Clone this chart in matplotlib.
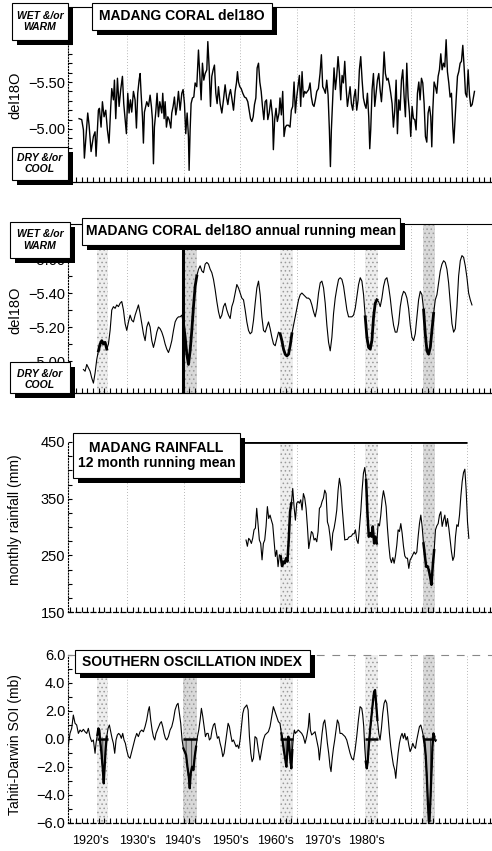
import matplotlib
matplotlib.use("Agg")
import matplotlib.pyplot as plt
import numpy as np
from matplotlib.patches import Rectangle
from matplotlib.ticker import FixedLocator

plt.rcParams['font.family'] = ['Liberation Sans', 'DejaVu Sans']
plt.rcParams['hatch.linewidth'] = 0.6

W, H = 492, 851

# ---- panel 1: Madang coral del18O (monthly) ----
coral_year = [1921.54, 1922.01, 1922.31, 1922.48, 1922.72, 1923.07, 1923.31, 1923.66, 1924.07, 1924.36,
              1924.54, 1924.78, 1924.95, 1925.13, 1925.42, 1925.66, 1925.95, 1926.25, 1926.54, 1926.83,
              1927.13, 1927.31, 1927.60, 1927.78, 1928.01, 1928.31, 1928.60, 1928.89, 1929.19, 1929.42,
              1929.66, 1929.89, 1930.13, 1930.36, 1930.60, 1930.83, 1931.13, 1931.42, 1931.66, 1931.89,
              1932.13, 1932.31, 1932.48, 1932.72, 1932.89, 1933.07, 1933.30, 1933.48, 1933.78, 1934.07,
              1934.30, 1934.48, 1934.66, 1934.83, 1935.07, 1935.30, 1935.54, 1935.78, 1936.13, 1936.30,
              1936.54, 1936.72, 1936.95, 1937.19, 1937.42, 1937.72, 1937.89, 1938.13, 1938.36, 1938.60,
              1938.83, 1939.07, 1939.36, 1939.66, 1939.89, 1940.13, 1940.36, 1940.60, 1940.83, 1940.95,
              1941.13, 1941.30, 1941.54, 1941.78, 1942.01, 1942.30, 1942.60, 1942.83, 1943.07, 1943.30,
              1943.54, 1943.78, 1944.07, 1944.25, 1944.48, 1944.72, 1944.95, 1945.19, 1945.42, 1945.66,
              1945.89, 1946.13, 1946.42, 1946.72, 1947.01, 1947.30, 1947.54, 1947.78, 1948.01, 1948.25,
              1948.48, 1948.78, 1949.07, 1949.30, 1949.48, 1949.66, 1949.89, 1950.13, 1950.42, 1950.72,
              1951.01, 1951.30, 1951.54, 1951.78, 1952.01, 1952.25, 1952.48, 1952.72, 1952.95, 1953.19,
              1953.42, 1953.66, 1953.89, 1954.13, 1954.36, 1954.60, 1954.83, 1955.07, 1955.36, 1955.66,
              1955.81, 1956.04, 1956.28, 1956.51, 1956.81, 1956.98, 1957.22, 1957.46, 1957.69, 1957.93,
              1958.16, 1958.46, 1958.75, 1958.98, 1959.22, 1959.46, 1959.69, 1959.93, 1960.16, 1960.40,
              1960.63, 1960.87, 1961.10, 1961.34, 1961.57, 1961.81, 1962.04, 1962.28, 1962.51, 1962.75,
              1962.98, 1963.22, 1963.46, 1963.75, 1964.04, 1964.28, 1964.51, 1964.75, 1964.98, 1965.22,
              1965.46, 1965.69, 1965.87, 1966.04, 1966.28, 1966.51, 1966.75, 1966.98, 1967.22, 1967.46,
              1967.69, 1967.93, 1968.16, 1968.40, 1968.63, 1968.87, 1969.10, 1969.34, 1969.57, 1969.81,
              1970.04, 1970.28, 1970.51, 1970.75, 1970.98, 1971.22, 1971.46, 1971.69, 1971.93, 1972.16,
              1972.40, 1972.63, 1972.81, 1972.98, 1973.22, 1973.46, 1973.69, 1973.93, 1974.16, 1974.40,
              1974.63, 1974.87, 1975.10, 1975.34, 1975.57, 1975.81, 1976.04, 1976.28, 1976.51, 1976.75,
              1976.98, 1977.22, 1977.46, 1977.69, 1977.93, 1978.16, 1978.40, 1978.63, 1978.87, 1979.10,
              1979.34, 1979.57, 1979.81, 1980.04, 1980.28, 1980.51, 1980.75, 1980.98, 1981.22, 1981.46,
              1981.69, 1981.93, 1982.16, 1982.40, 1982.63, 1982.87, 1983.10, 1983.34, 1983.57, 1983.75,
              1983.93, 1984.16, 1984.40, 1984.63, 1984.87, 1985.10, 1985.34, 1985.57, 1985.81, 1986.04,
              1986.28, 1986.51, 1986.75, 1986.98, 1987.22, 1987.46, 1987.63, 1987.81, 1988.04, 1988.28,
              1988.51, 1988.75, 1988.98, 1989.22, 1989.46, 1989.69, 1989.93, 1990.16, 1990.40, 1990.63,
              1990.87, 1991.10, 1991.28]
coral_d18o = [-5.11, -5.10, -4.99, -4.69, -4.88, -5.17, -5.04, -4.76, -4.92, -4.97,
              -4.71, -4.99, -5.20, -5.22, -5.02, -5.29, -5.13, -5.20, -4.99, -4.85,
              -5.24, -5.43, -5.31, -5.52, -5.11, -5.54, -5.24, -5.42, -5.56, -5.27,
              -5.10, -4.95, -5.38, -5.17, -5.31, -5.18, -5.40, -5.31, -5.01, -5.38,
              -5.52, -5.59, -5.38, -5.13, -4.85, -5.18, -5.24, -5.29, -5.24, -5.36,
              -5.24, -5.10, -4.63, -5.02, -5.18, -5.38, -5.13, -5.29, -5.17, -5.38,
              -5.11, -5.29, -5.02, -5.13, -5.10, -5.01, -5.17, -5.24, -5.34, -5.15,
              -5.24, -5.40, -5.20, -5.38, -5.42, -5.27, -4.95, -5.17, -4.92, -4.56,
              -4.99, -5.27, -5.33, -5.34, -5.49, -5.45, -5.84, -5.59, -5.31, -5.70,
              -5.52, -5.59, -5.63, -5.93, -5.66, -5.24, -5.56, -5.63, -5.68, -5.38,
              -5.27, -5.45, -5.27, -5.17, -5.31, -5.47, -5.34, -5.26, -5.36, -5.42,
              -5.33, -5.20, -5.40, -5.49, -5.61, -5.50, -5.45, -5.43, -5.38, -5.34,
              -5.33, -5.29, -5.20, -5.11, -5.08, -5.13, -5.26, -5.33, -5.65, -5.70,
              -5.50, -5.40, -5.24, -5.10, -5.29, -5.31, -5.10, -5.17, -5.31, -5.13,
              -4.78, -5.10, -5.22, -5.08, -5.17, -5.33, -5.15, -5.40, -4.92, -5.02,
              -5.04, -5.04, -5.02, -5.20, -5.24, -5.50, -5.17, -5.34, -5.45, -5.57,
              -5.24, -5.61, -5.34, -5.40, -5.38, -5.40, -5.42, -5.49, -5.34, -5.26,
              -5.24, -5.31, -5.40, -5.43, -5.59, -5.79, -5.45, -5.42, -5.38, -5.52,
              -5.36, -4.99, -4.60, -4.99, -5.34, -5.65, -5.42, -5.56, -5.77, -5.59,
              -5.31, -5.57, -5.49, -5.72, -5.45, -5.24, -5.34, -5.45, -5.27, -5.20,
              -5.34, -5.42, -5.20, -5.31, -5.63, -5.77, -5.52, -5.33, -5.26, -5.22,
              -5.38, -5.13, -4.79, -4.99, -5.42, -5.59, -5.24, -5.38, -5.52, -5.59,
              -5.42, -5.29, -5.49, -5.82, -5.59, -5.52, -5.54, -5.47, -5.38, -5.27,
              -5.02, -5.20, -5.52, -4.95, -5.31, -5.20, -5.52, -5.63, -5.34, -5.13,
              -5.70, -5.34, -5.17, -4.92, -5.24, -5.11, -5.10, -4.99, -5.38, -5.50,
              -5.31, -5.54, -5.49, -5.27, -4.92, -4.86, -5.17, -5.24, -5.13, -4.81,
              -5.20, -5.50, -5.45, -5.38, -5.56, -5.63, -5.80, -5.63, -5.70, -5.66,
              -5.95, -5.61, -5.49, -5.34, -5.38, -5.02, -4.85, -5.06, -5.31, -5.56,
              -5.61, -5.70, -5.72, -5.89, -5.65, -5.38, -5.34, -5.63, -5.36, -5.24,
              -5.26, -5.34, -5.40]

# ---- panel 2: annual running mean of coral del18O ----
mean_start = 1922.31
mean_step = 0.2941
coral_mean = [-4.95, -4.94, -4.98, -4.96, -4.94, -4.90, -4.87, -4.93, -5.01, -5.06,
              -5.10, -5.12, -5.10, -5.11, -5.07, -5.10, -5.18, -5.30, -5.32, -5.31,
              -5.33, -5.32, -5.34, -5.35, -5.30, -5.22, -5.18, -5.23, -5.27, -5.24,
              -5.23, -5.27, -5.30, -5.33, -5.28, -5.22, -5.16, -5.12, -5.20, -5.23,
              -5.20, -5.12, -5.08, -5.12, -5.17, -5.20, -5.19, -5.17, -5.14, -5.10,
              -5.07, -5.05, -5.08, -5.12, -5.18, -5.23, -5.25, -5.26, -5.26, -5.27,
              -5.22, -5.14, -5.04, -4.98, -5.06, -5.18, -5.32, -5.44, -5.50, -5.54,
              -5.56, -5.53, -5.52, -5.57, -5.58, -5.57, -5.54, -5.52, -5.48, -5.42,
              -5.35, -5.29, -5.25, -5.27, -5.32, -5.34, -5.30, -5.27, -5.25, -5.32,
              -5.35, -5.40, -5.45, -5.43, -5.40, -5.37, -5.36, -5.30, -5.23, -5.18,
              -5.16, -5.17, -5.24, -5.34, -5.43, -5.47, -5.39, -5.26, -5.18, -5.17,
              -5.20, -5.23, -5.19, -5.14, -5.10,
              -5.09, -5.13, -5.17, -5.16, -5.12, -5.07, -5.04, -5.03, -5.04, -5.09,
              -5.16, -5.21, -5.26, -5.31, -5.36, -5.39, -5.40, -5.39, -5.38, -5.37,
              -5.37, -5.36, -5.33, -5.29, -5.26, -5.31, -5.40, -5.46, -5.47, -5.43,
              -5.34, -5.21, -5.11, -5.06, -5.14, -5.28, -5.37, -5.43, -5.48, -5.49,
              -5.48, -5.44, -5.37, -5.30, -5.26, -5.26, -5.26, -5.27, -5.31, -5.38,
              -5.45, -5.49, -5.47, -5.39, -5.26, -5.14, -5.08, -5.07, -5.12, -5.26,
              -5.34, -5.36, -5.35, -5.32, -5.37, -5.44, -5.48, -5.49, -5.44, -5.37,
              -5.28, -5.21, -5.17, -5.17, -5.22, -5.32, -5.38, -5.41, -5.40, -5.37,
              -5.31, -5.21, -5.14, -5.12, -5.16, -5.26, -5.36, -5.41, -5.39, -5.30,
              -5.16, -5.06, -5.04, -5.08, -5.18, -5.28, -5.36, -5.39, -5.46, -5.53,
              -5.57, -5.59, -5.58, -5.54, -5.46, -5.34, -5.22, -5.17, -5.19, -5.32,
              -5.50, -5.59, -5.62, -5.61, -5.56, -5.49, -5.40, -5.36, -5.33]

# ---- panel 3: Madang rainfall, 12 month running mean (mm) ----
rain_start = 1950.99
rain_step = 0.2353
rainfall = [277, 266, 280, 277, 271, 280, 295, 298, 333, 304,
            277, 271, 242, 271, 277, 301, 336, 315, 321, 312,
            304, 277, 248, 259, 230, 251, 248, 231, 239, 236,
            245, 239, 277, 327, 342, 368, 336, 312, 342, 345,
            342, 348, 330, 359, 351, 333, 301, 262, 277, 292,
            289, 277, 280, 274, 292, 333, 336, 345, 351, 365,
            359, 309, 301, 283, 259, 289, 298, 312, 330, 365,
            386, 371, 336, 306, 277, 278, 278, 282, 283, 284,
            288, 288, 295, 277, 271, 298, 327, 365, 395, 405,
            383, 324, 283, 289, 283, 301, 271, 283, 271, 306,
            302, 321, 348, 364, 352, 336, 298, 268, 245, 237,
            246, 236, 249, 268, 295, 292, 306, 289, 266, 249,
            245, 245, 227, 242, 246, 251, 256, 252, 256, 283,
            306, 321, 301, 271, 251, 230, 231, 224, 212, 198,
            233, 259, 295, 302, 306, 321, 327, 301, 312, 321,
            301, 315, 298, 277, 256, 241, 248, 283, 304, 301,
            321, 354, 380, 396, 402, 365, 309, 280]

# ---- panel 4: Southern Oscillation Index (Tahiti - Darwin, mb) ----
soi_year = [1919.65, 1919.94, 1920.24, 1920.53, 1920.83, 1921.12, 1921.42, 1921.71, 1922.00, 1922.30,
            1922.59, 1922.89, 1923.18, 1923.47, 1923.77, 1924.06, 1924.36, 1924.53, 1924.77, 1924.94,
            1925.12, 1925.24, 1925.47, 1925.71, 1925.89, 1926.06, 1926.24, 1926.42, 1926.65, 1926.89,
            1927.12, 1927.36, 1927.59, 1927.83, 1928.06, 1928.30, 1928.53, 1928.77, 1929.00, 1929.24,
            1929.47, 1929.71, 1929.94, 1930.24, 1930.53, 1930.83, 1931.12, 1931.42, 1931.71, 1932.00,
            1932.30, 1932.59, 1932.89, 1933.18, 1933.47, 1933.77, 1933.94, 1934.18, 1934.42, 1934.65,
            1934.89, 1935.12, 1935.36, 1935.59, 1935.83, 1936.06, 1936.30, 1936.53, 1936.77, 1937.00,
            1937.30, 1937.59, 1937.89, 1938.18, 1938.47, 1938.77, 1939.00, 1939.24, 1939.47, 1939.71,
            1939.94, 1940.18, 1940.42, 1940.65, 1940.89, 1941.06, 1941.24, 1941.47, 1941.71, 1941.94,
            1942.18, 1942.42, 1942.65, 1942.89, 1943.12, 1943.36, 1943.59, 1943.83, 1944.06, 1944.30,
            1944.53, 1944.77, 1945.00, 1945.24, 1945.47, 1945.71, 1945.94, 1946.18, 1946.42, 1946.65,
            1946.89, 1947.12, 1947.36, 1947.59, 1947.83, 1948.06, 1948.30, 1948.53, 1948.77, 1949.00,
            1949.24, 1949.47, 1949.71, 1949.94, 1950.18, 1950.42, 1950.65, 1950.89, 1951.12, 1951.36,
            1951.59, 1951.83, 1952.06, 1952.30,
            1952.57, 1952.87, 1953.16, 1953.45, 1953.75, 1954.04, 1954.34, 1954.63, 1954.93, 1955.22,
            1955.51, 1955.81, 1956.10, 1956.40, 1956.69, 1956.98, 1957.22, 1957.45, 1957.69, 1957.93,
            1958.10, 1958.28, 1958.45, 1958.63, 1958.81, 1958.98, 1959.16, 1959.34, 1959.51, 1959.69,
            1959.93, 1960.22, 1960.51, 1960.81, 1961.10, 1961.40, 1961.69, 1961.98, 1962.16, 1962.34,
            1962.57, 1962.87, 1963.16, 1963.45, 1963.75, 1963.93, 1964.16, 1964.40, 1964.63, 1964.87,
            1965.10, 1965.34, 1965.57, 1965.81, 1965.98, 1966.16, 1966.40, 1966.63, 1966.87, 1967.10,
            1967.34, 1967.57, 1967.87, 1968.16, 1968.45, 1968.75, 1969.04, 1969.34, 1969.63, 1969.93,
            1970.22, 1970.51, 1970.81, 1971.10, 1971.40, 1971.57, 1971.75, 1971.92, 1972.10, 1972.28,
            1972.45, 1972.63, 1972.87, 1973.10, 1973.34, 1973.57, 1973.75, 1973.93, 1974.16, 1974.40,
            1974.63, 1974.87, 1975.10, 1975.34, 1975.57, 1975.81, 1976.04, 1976.28, 1976.51, 1976.75,
            1976.98, 1977.22, 1977.40, 1977.57, 1977.81, 1978.04, 1978.28, 1978.51, 1978.75, 1978.98,
            1979.22, 1979.45, 1979.69, 1979.93, 1980.16, 1980.40, 1980.63, 1980.87, 1981.10, 1981.34,
            1981.57, 1981.81, 1982.04, 1982.28, 1982.51, 1982.69, 1982.87, 1983.04, 1983.22, 1983.34,
            1983.51, 1983.69, 1983.87, 1984.04, 1984.22, 1984.40, 1984.57]
soi = [-0.43, 0.40, 0.76, 1.71, 1.12, 1.00, 0.40, 0.64, 0.52, 0.69,
       0.52, 0.40, 0.76, 0.17, -0.19, -0.07, -1.02, -0.31, 0.29, 0.76,
       0.64, -0.07, -0.90, -2.10, -3.17, -1.98, -0.67, 0.17, 0.76, 1.00,
       0.52, 0.05, -0.31, -1.02, -0.07, 0.29, 0.40, 0.29, 0.05, 0.40,
       -0.07, -0.31, -0.79, -1.26, -1.38, -0.90, -0.43, 0.05, 0.40, 0.17,
       0.52, 0.64, 0.52, 0.88, 1.36, 2.07, 2.31, 1.36, 0.64, 0.17,
       -0.07, 0.40, 0.64, 0.88, 1.12, 1.24, 0.88, 0.40, 0.05, -0.07,
       0.17, 0.64, 0.88, 1.36, 2.07, 2.43, 2.55, 1.83, 1.12, -0.07,
       -0.67, -0.90, -1.14, -1.98, -2.69, -3.52, -2.45, -1.98, -2.21, -1.26,
       -0.55, 0.17, 0.64, 1.36, 2.19, 1.60, 0.88, 0.17, 0.40, 0.40,
       -0.07, 0.05, 0.64, 1.00, 1.12, 0.52, 0.05, 0.17, -0.31, -0.67,
       -1.26, -1.02, -0.31, 0.40, 1.12, 0.88, 0.29, -0.19, -0.07, -0.31,
       -0.55, -0.43, -0.67, -0.07, 0.88, 1.83, 2.19, 2.31, 2.43, 2.07,
       0.17, -1.02, -1.62, -1.38,
       0.17, 0.05, -0.79, -1.50, -0.79, -0.07, 0.29, 0.40, 0.52, 0.88,
       1.60, 2.31, 1.95, 1.60, 1.24, 1.12, 0.40, -0.19, -0.90, -1.50,
       -1.98, -0.90, 0.17, -0.55, -1.50, -2.10, -0.79, 0.17, 0.64, 0.40,
       0.52, 0.64, 0.52, 0.40, 0.17, -0.31, 0.17, 0.88, 1.83, 0.64,
       0.29, 0.40, 0.52, -0.07, -0.67, -1.50, -0.55, 0.40, 1.12, 1.36,
       0.64, -0.31, -1.02, -1.98, -2.33, -1.50, -0.67, -0.07, 0.64, 1.36,
       1.12, 0.40, 0.40, 0.29, 0.17, -0.07, -0.55, -1.02, -1.38, -1.50,
       -0.79, 0.17, 1.36, 2.31, 2.19, 1.71, 0.88, -0.55, -1.62, -2.10,
       -1.62, -0.55, 0.64, 1.60, 2.55, 3.38, 3.50, 2.55, 1.36, 0.40,
       -0.07, 0.76, 1.83, 2.55, 2.79, 2.55, 1.60, 0.40, -0.55, -1.26,
       -1.86, -2.21, -2.81, -1.98, -1.02, -0.31, 0.17, 0.40, 0.05, 0.40,
       -0.07, 0.17, -0.43, -0.90, -0.67, -0.31, -0.55, -0.67, -0.07, 0.40,
       0.88, 1.00, 0.64, 0.17, -0.43, -1.26, -2.69, -4.36, -5.79, -5.90,
       -4.36, -2.45, -0.55, 0.40, 0.17, -0.19, -0.07]

# El Nino periods shaded in the original figure
enso_bands = [(1924.7, 1926.6), (1939.9, 1942.4), (1957.0, 1959.2), (1972.0, 1974.2), (1982.2, 1984.3)]
decades = [1930, 1940, 1950, 1960, 1970, 1980, 1990]
decade_labels = ["1920's", "1930's", "1940's", "1950's", "1960's", "1970's", "1980's"]
decade_label_pos = [1923.5, 1931.8, 1939.7, 1948.2, 1956.1, 1964.4, 1972.3]

XMIN, XMAX = 1919.59, 1994.37
MINUS = '\u2212'


def rect(l, t, r, b):
    return [l / W, 1 - b / H, (r - l) / W, (b - t) / H]


def box(l, t, r, b, text, size, style='normal', weight='bold', sh=5, dy=0):
    fig.add_artist(Rectangle(((l + sh) / W, 1 - (b + sh) / H), (r - l) / W, (b - t) / H,
                             transform=fig.transFigure, fc='black', ec='none', zorder=5))
    fig.add_artist(Rectangle((l / W, 1 - b / H), (r - l) / W, (b - t) / H,
                             transform=fig.transFigure, fc='white', ec='black', lw=0.8, zorder=6))
    fig.text((l + r) / 2 / W, 1 - ((t + b) / 2 + dy) / H, text, ha='center', va='center',
             fontsize=size, style=style, weight=weight, zorder=7, linespacing=1.15)


def band_mask(t, bands):
    m = np.zeros(len(t), dtype=bool)
    for a, b in bands:
        m |= (t >= a) & (t <= b)
    return m


def setup(ax, ls_bottom='-'):
    ax.set_xlim(XMIN, XMAX)
    ax.spines['right'].set_visible(False)
    ax.spines['left'].set_linestyle(':')
    ax.spines['left'].set_linewidth(0.8)
    ax.spines['bottom'].set_linestyle(ls_bottom)
    ax.spines['bottom'].set_linewidth(0.9)
    ax.xaxis.set_minor_locator(FixedLocator(np.arange(1920, 1995)))
    ax.tick_params(axis='x', which='minor', direction='in', length=3.5, width=0.8)
    ax.tick_params(axis='x', which='major', length=0)
    ax.tick_params(axis='y', which='both', direction='in', length=3, width=0.8, pad=2, labelsize=10.5)
    for d in decades:
        ax.axvline(d, color='#a0a0a0', lw=0.6, ls=(0, (1, 2.5)), zorder=1)


def shade(ax, bands, dark=()):
    for i, (a, b) in enumerate(bands):
        fc = '#d9d9d9' if i in dark else '#eeeeee'
        ax.axvspan(a, b, facecolor=fc, edgecolor='#9a9a9a', hatch='....', lw=0, zorder=0)


fig = plt.figure(figsize=(W / 100, H / 100), dpi=100)

# panel 1
t1 = np.array(coral_year)
y1 = np.array(coral_d18o)
ax1 = fig.add_axes(rect(68, 7, 492, 182))
setup(ax1)
ax1.plot(t1, y1, color='black', lw=1.0, zorder=3)
ax1.set_ylim(-4.436, -6.298)
ax1.set_yticks([-5.5, -5.0], [MINUS + '5.50', MINUS + '5.00'])
ax1.yaxis.set_minor_locator(FixedLocator(np.arange(-5.9, -4.55, 0.1)))
ax1.set_xticks([])

# panel 2
t2 = mean_start + mean_step * np.arange(len(coral_mean))
y2 = np.array(coral_mean)
ax2 = fig.add_axes(rect(68, 224, 492, 393))
setup(ax2)
shade(ax2, enso_bands, dark=(1, 4))
ax2.axvline(enso_bands[1][0], color='black', lw=2.2, zorder=2)
ax2.plot(t2, y2, color='black', lw=0.8, zorder=3)
ax2.plot(t2, np.where(band_mask(t2, enso_bands), y2, np.nan), color='black', lw=2.0, zorder=3)
ax2.set_ylim(-4.812, -5.806)
ax2.set_yticks([-5.6, -5.4, -5.2, -5.0], [MINUS + '5.60', MINUS + '5.40', MINUS + '5.20', MINUS + '5.00'])
ax2.yaxis.set_minor_locator(FixedLocator(np.arange(-5.7, -4.85, 0.1)))
ax2.set_xticks([])

# panel 3
t3 = rain_start + rain_step * np.arange(len(rainfall))
y3 = np.array(rainfall, dtype=float)
ax3 = fig.add_axes(rect(68, 442, 492, 612))
setup(ax3, ls_bottom=(0, (4, 2)))
ax3.spines['top'].set_visible(False)
shade(ax3, enso_bands[2:], dark=(2,))
ax3.hlines(450, 1950, 1990, color='black', lw=2.0, zorder=4)
ax3.plot(t3, y3, color='black', lw=0.8, zorder=3)
ax3.plot(t3, np.where(band_mask(t3, enso_bands), y3, np.nan), color='black', lw=1.8, zorder=3)
ax3.set_ylim(150, 450)
ax3.set_yticks([150, 250, 350, 450])
ax3.yaxis.set_minor_locator(FixedLocator(np.arange(150, 451, 25)))
ax3.set_xticks([])

# panel 4
t4 = np.array(soi_year)
y4 = np.array(soi)
ax4 = fig.add_axes(rect(68, 655, 492, 823))
setup(ax4, ls_bottom=(0, (4, 2)))
ax4.spines['top'].set_linestyle((0, (6, 8)))
ax4.spines['top'].set_color('#888888')
shade(ax4, enso_bands, dark=(1, 4))
m4 = band_mask(t4, enso_bands)
ax4.fill_between(t4, y4, 0, where=m4 & (y4 < 0), interpolate=True,
                 facecolor='#bbbbbb', edgecolor='#333333', hatch='|||', lw=0, zorder=2)
for a, b in enso_bands:
    ax4.hlines(0, a, b, color='black', lw=1.8, zorder=3)
ax4.plot(t4, y4, color='black', lw=0.8, zorder=3)
ax4.plot(t4, np.where(m4, y4, np.nan), color='black', lw=1.6, zorder=3)
ax4.set_ylim(-6, 6)
ax4.set_yticks(np.arange(-6, 7, 2), [MINUS + '6.0', MINUS + '4.0', MINUS + '2.0', '0.0', '2.0', '4.0', '6.0'])
ax4.yaxis.set_minor_locator(FixedLocator(np.arange(-6, 6.5, 1)))
ax4.set_xticks(decade_label_pos, decade_labels)
ax4.tick_params(axis='x', which='major', length=0, pad=9, labelsize=9)

# axis titles
fig.text(15 / W, 1 - 95 / H, 'del18O', rotation=90, ha='center', va='center', fontsize=10.5)
fig.text(15 / W, 1 - 310 / H, 'del18O', rotation=90, ha='center', va='center', fontsize=10.5)
fig.text(15 / W, 1 - 520 / H, 'monthly rainfall (mm)', rotation=90, ha='center', va='center', fontsize=10)
fig.text(15 / W, 1 - 745 / H, 'Tahiti-Darwin SOI (mb)', rotation=90, ha='center', va='center', fontsize=10)

# labelled boxes
box(92, 3, 272, 30, 'MADANG CORAL del18O', 10)
box(12, 3, 68, 40, 'WET &/or\nWARM', 7.5, style='italic')
box(12, 147, 68, 180, 'DRY &/or\nCOOL', 7.5, style='italic')
box(82, 218, 400, 245, 'MADANG CORAL del18O annual running mean', 10)
box(10, 222, 70, 258, 'WET &/or\nWARM', 7.5, style='italic')
box(10, 362, 70, 393, 'DRY &/or\nCOOL', 7.5, style='italic', dy=2)
box(73, 433, 240, 478, 'MADANG RAINFALL\n12 month running mean', 10)
box(75, 650, 310, 673, 'SOUTHERN OSCILLATION INDEX', 10)

fig.savefig('out.png', dpi=100)
